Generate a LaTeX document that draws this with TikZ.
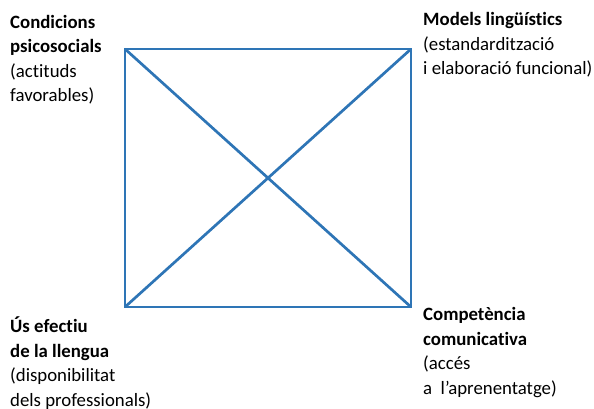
\documentclass[tikz,border=0pt]{standalone}
\usepackage{fontspec}
\setmainfont[RawFeature=-liga]{Carlito}
\definecolor{sqblue}{RGB}{46,117,182}
\begin{document}
\begin{tikzpicture}[x=1pt,y=-1pt,
  lbl/.style={anchor=base west,inner sep=0pt,align=left,font=\fontsize{18.8}{24.5}\selectfont},
  edge/.style={draw=sqblue,line width=2.7pt}]
\useasboundingbox (0,0) rectangle (594,409);
\coordinate (tl) at (125,49);
\coordinate (tr) at (411,49);
\coordinate (bl) at (125,307);
\coordinate (br) at (411,307);
\draw[edge] (tl) -- (tr) -- (br) -- (bl) -- cycle;
\draw[edge] (tl) -- (br);
\draw[edge] (bl) -- (tr);
\node[lbl] (ltl) at (10,102) {\textbf{Condicions}\\\textbf{psicosocials}\\(actituds\\favorables)};
\node[lbl] (ltr) at (423,75) {\textbf{Models lingüístics}\\(estandardització\\i elaboració funcional)};
\node[lbl] (lbl) at (10,406) {\textbf{Ús efectiu}\\\textbf{de la llengua}\\(disponibilitat\\dels professionals)};
\node[lbl] (lbr) at (423,394) {\textbf{Competència}\\\textbf{comunicativa}\\(accés\\a\ \ l’aprenentatge)};
\end{tikzpicture}
\end{document}
